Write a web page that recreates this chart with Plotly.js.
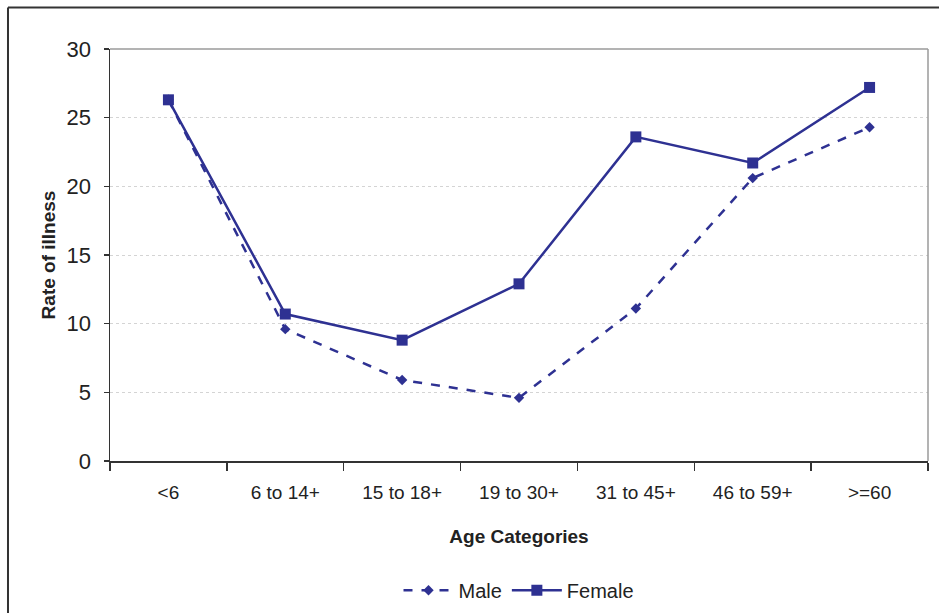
<!DOCTYPE html>
<html>
<head>
<meta charset="utf-8">
<script src="https://cdn.plot.ly/plotly-3.0.1.min.js"></script>
<style>
  html, body { margin: 0; padding: 0; background: #fff; }
  #chart { width: 939px; height: 613px; }
</style>
</head>
<body>
<div id="chart"></div>
<script>
// Illness rate by age group, male vs female
const ageCategories = ["<6", "6 to 14+", "15 to 18+", "19 to 30+", "31 to 45+", "46 to 59+", ">=60"];
const maleRates = [26.3, 9.6, 5.9, 4.6, 11.1, 20.6, 24.3];
const femaleRates = [26.3, 10.7, 8.8, 12.9, 23.6, 21.7, 27.2];
const yTickValues = [0, 5, 10, 15, 20, 25, 30];

const navy = "#2e3192";
const fontFamily = "Liberation Sans, Arial, sans-serif";

const traces = [
  {
    name: "Male",
    x: ageCategories,
    y: maleRates,
    type: "scatter",
    mode: "lines+markers",
    line: { color: navy, width: 2.5, dash: "dash" },
    marker: { symbol: "diamond", size: 8, color: navy }
  },
  {
    name: "Female",
    x: ageCategories,
    y: femaleRates,
    type: "scatter",
    mode: "lines+markers",
    line: { color: navy, width: 2.5 },
    marker: { symbol: "square", size: 11, color: navy }
  }
];

const layout = {
  width: 939,
  height: 613,
  margin: { l: 110, r: 11, t: 49, b: 152, autoexpand: false },
  paper_bgcolor: "#fff",
  plot_bgcolor: "#fff",
  font: { family: fontFamily, color: "#222", size: 20 },
  showlegend: true,
  legend: {
    orientation: "h",
    x: 0.5, xanchor: "center",
    yref: "container",
    y: 0.037, yanchor: "middle",
    font: { size: 20, color: "#222" },
    itemwidth: 50
  },
  xaxis: {
    type: "category",
    range: [-0.5, 6.5],
    showgrid: false,
    zeroline: false,
    showline: true,
    linecolor: "#333",
    linewidth: 1.5,
    ticks: "outside",
    tickson: "boundaries",
    ticklen: 8,
    tickcolor: "#333",
    tickwidth: 1.5,
    ticklabelstandoff: 14,
    tickfont: { size: 19, color: "#222" },
    title: { text: "<b>Age Categories</b>", font: { size: 19, color: "#222" }, standoff: 27 }
  },
  yaxis: {
    range: [0, 30],
    tickvals: yTickValues,
    ticktext: yTickValues.map(String),
    showgrid: true,
    gridcolor: "#d4d4d4",
    griddash: "dot",
    gridwidth: 1,
    zeroline: false,
    showline: true,
    linecolor: "#333",
    linewidth: 1.5,
    ticks: "outside",
    ticklen: 5,
    tickcolor: "#333",
    tickwidth: 1.5,
    ticklabelstandoff: 8,
    tickfont: { size: 22, color: "#222" },
    title: { text: "<b>Rate of illness</b>", font: { size: 19, color: "#222" }, standoff: 6 }
  },
  shapes: [
    // plot area top and right edges
    { type: "line", xref: "paper", yref: "paper", x0: 0, x1: 1, y0: 1, y1: 1,
      line: { color: "#9a9a9a", width: 1.5 } },
    { type: "line", xref: "paper", yref: "paper", x0: 1, x1: 1, y0: 0, y1: 1,
      line: { color: "#9a9a9a", width: 1.5 } },
    // outer frame (top and left edges)
    { type: "line", xref: "paper", yref: "paper", x0: -0.1247, x1: 1.1, y0: 1.1005, y1: 1.1005,
      line: { color: "#333", width: 2 } },
    { type: "line", xref: "paper", yref: "paper", x0: -0.1247, x1: -0.1247, y0: -0.5, y1: 1.1005,
      line: { color: "#333", width: 2 } }
  ]
};

Plotly.newPlot("chart", traces, layout, { displayModeBar: false, staticPlot: true });
</script>
</body>
</html>
